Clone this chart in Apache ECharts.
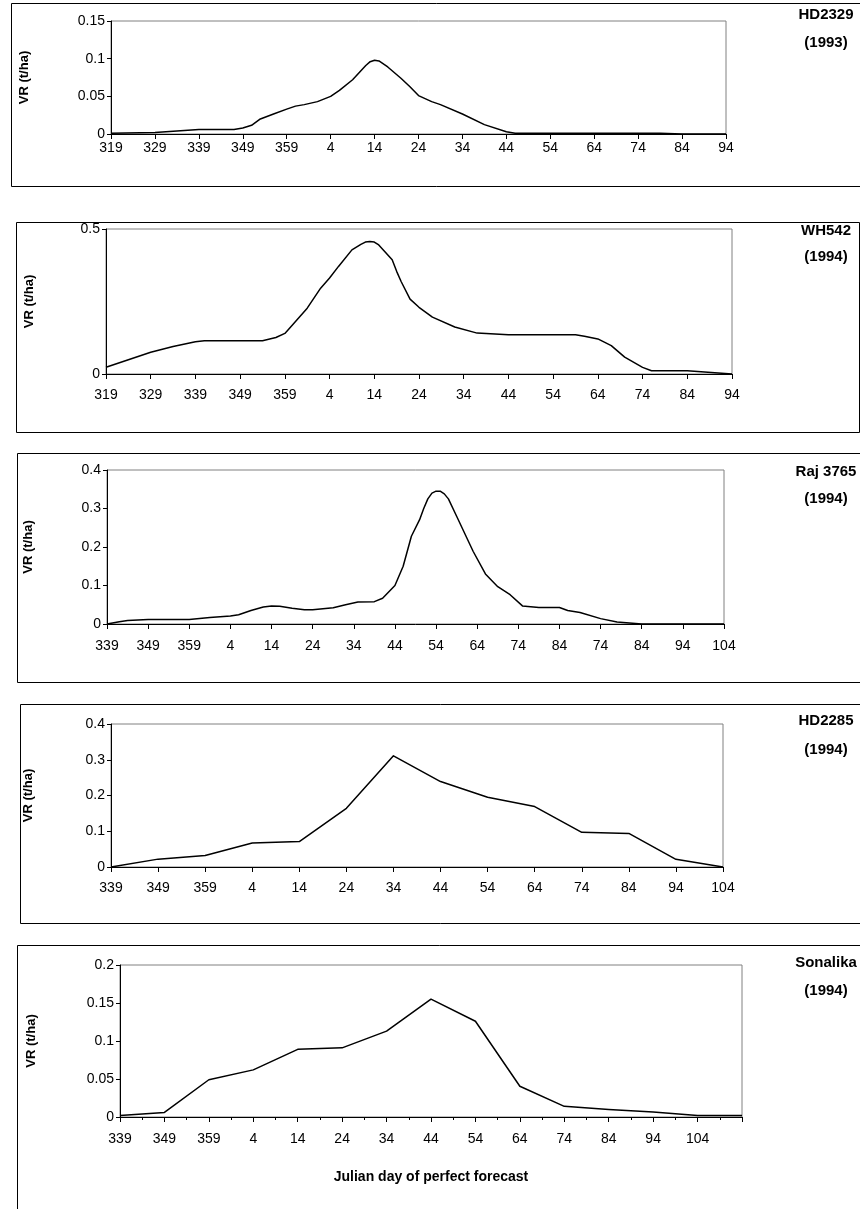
<!DOCTYPE html>
<html>
<head>
<meta charset="utf-8">
<script src="https://cdn.jsdelivr.net/npm/echarts@6/dist/echarts.min.js"></script>
<style>
html,body{margin:0;padding:0;background:#fff;}
#chart{width:860px;height:1209px;}
</style>
</head>
<body>
<div id="chart"></div>
<script>
// ---- Data (x = days after the first tick of each panel; labels are Julian days) ----
const hd2329Labels = ['319','329','339','349','359','4','14','24','34','44','54','64','74','84','94'];
const hd2329Data = [[0,0.001],[10,0.002],[20,0.006],[25,0.006],[28,0.006],[30,0.008],[32,0.0115],[34,0.02],[37,0.0265],[40,0.033],[42,0.037],[44,0.039],[47,0.043],[50,0.05],[52,0.058],[55,0.072],[58,0.091],[59,0.096],[60,0.098],[61,0.097],[63,0.089],[66,0.074],[68,0.063],[70,0.051],[73,0.043],[75,0.039],[80,0.0265],[85,0.0124],[90,0.003],[92,0.001],[100,0.001],[120,0.001],[125,0.001],[130,0],[140,0]];

const wh542Labels = ['319','329','339','349','359','4','14','24','34','44','54','64','74','84','94'];
const wh542Data = [[0,0.023],[5,0.049],[10,0.075],[15,0.095],[20,0.111],[22,0.115],[30,0.115],[35,0.115],[38,0.126],[40,0.14],[41,0.157],[45,0.227],[48,0.296],[50,0.331],[52,0.371],[55,0.428],[57,0.447],[58,0.455],[59,0.457],[60,0.455],[61,0.445],[64,0.394],[65,0.354],[66,0.319],[68,0.258],[70,0.23],[73,0.196],[78,0.162],[83,0.141],[85,0.14],[90,0.135],[100,0.135],[105,0.135],[107,0.13],[110,0.121],[113,0.098],[116,0.058],[120,0.023],[122,0.011],[130,0.011],[140,0]];

const raj3765Labels = ['339','349','359','4','14','24','34','44','54','64','74','84','74','84','94','104'];
const raj3765Data = [[0,0],[3,0.006],[5,0.009],[10,0.012],[20,0.012],[25,0.017],[30,0.021],[32,0.024],[35,0.035],[38,0.044],[40,0.047],[42,0.046],[45,0.041],[48,0.037],[50,0.037],[55,0.042],[58,0.05],[61,0.057],[65,0.058],[67,0.067],[70,0.1],[72,0.15],[74,0.228],[76,0.271],[77,0.3],[78,0.325],[79,0.34],[80,0.345],[81,0.345],[82,0.338],[83,0.325],[85,0.28],[89,0.189],[92,0.13],[95,0.097],[98,0.076],[101,0.047],[105,0.043],[110,0.043],[112,0.035],[115,0.03],[120,0.014],[124,0.005],[130,0],[150,0]];

const hd2285Labels = ['339','349','359','4','14','24','34','44','54','64','74','84','94','104'];
const hd2285Values = [0,0.022,0.032,0.067,0.071,0.164,0.311,0.239,0.195,0.169,0.097,0.094,0.0215,0];

const sonalikaLabels = ['339','349','359','4','14','24','34','44','54','64','74','84','94','104',''];
const sonalikaValues = [0.002,0.006,0.049,0.062,0.089,0.091,0.113,0.155,0.126,0.0405,0.014,0.01,0.0065,0.002,0.002];

const yAxisTitle = 'VR (t/ha)';
const xAxisTitle = 'Julian day of perfect forecast';
const panelNames = [['HD2329','(1993)'],['WH542','(1994)'],['Raj 3765','(1994)'],['HD2285','(1994)'],['Sonalika','(1994)']];

// ---- Layout ----
const FONT = '"Liberation Sans", Arial, sans-serif';
const grids = [
  {left:111, top:21,  width:615, height:113},
  {left:106, top:229, width:626, height:145},
  {left:107, top:470, width:617, height:154},
  {left:111, top:724, width:612, height:143},
  {left:120, top:965, width:622, height:152}
];
const yCfg = [
  {max:0.15, interval:0.05, gap:80},
  {max:0.5, interval:0.5, gap:70},
  {max:0.4, interval:0.1, gap:72},
  {max:0.4, interval:0.1, gap:76},
  {max:0.2, interval:0.05, gap:82}
];
const xCfg = [
  {max:140, labels:hd2329Labels, margin:7},
  {max:140, labels:wh542Labels, margin:14},
  {max:150, labels:raj3765Labels, margin:15},
  {max:130, labels:hd2285Labels, margin:14},
  {max:140, labels:sonalikaLabels, margin:15}
];
const boxes = [
  {x:11, y:3, w:900, h:183},
  {x:16, y:222, w:843, h:210},
  {x:17, y:453, w:843, h:229},
  {x:20, y:704, w:900, h:219},
  {x:17, y:945, w:900, h:400}
];
const nameY = [[15,43],[231,257],[472,499],[721,750],[963,991]];

const series4 = hd2285Values.map((v,i)=>[i*10, v]);
const series5 = sonalikaValues.map((v,i)=>[i*10, v]);
const allData = [hd2329Data, wh542Data, raj3765Data, series4, series5];

const option = {
  animation:false,
  backgroundColor:'#fff',
  grid: grids.map(g=>Object.assign({show:true, borderColor:'#808080', borderWidth:1, backgroundColor:'rgba(0,0,0,0)', containLabel:false}, g)),
  xAxis: xCfg.map((c,i)=>({
    type:'value', gridIndex:i, min:0, max:c.max, interval:10,
    axisLine:{show:true, onZero:false, lineStyle:{color:'#000', width:1}},
    axisTick:{show:true, length:5, lineStyle:{color:'#000'}},
    minorTick: i===4 ? {show:true, splitNumber:2, length:3, lineStyle:{color:'#000'}} : {show:false},
    splitLine:{show:false},
    axisLabel:{color:'#000', fontSize:14, fontFamily:FONT, margin:c.margin, showMinLabel:true, showMaxLabel:true,
      formatter:(v)=>{const k=Math.round(v/10); return c.labels[k]!==undefined ? c.labels[k] : '';}},
    name: i===4 ? xAxisTitle : '',
    nameLocation:'middle', nameGap:53,
    nameTextStyle:{color:'#000', fontSize:14, fontWeight:'bold', fontFamily:FONT}
  })),
  yAxis: yCfg.map((c,i)=>({
    type:'value', gridIndex:i, min:0, max:c.max, interval:c.interval,
    axisLine:{show:true, lineStyle:{color:'#000', width:1}},
    axisTick:{show:true, length:4, lineStyle:{color:'#000'}},
    splitLine:{show:false},
    axisLabel:{color:'#000', fontSize:14, fontFamily:FONT, margin:6},
    name:yAxisTitle, nameLocation:'middle', nameGap:c.gap, nameRotate:90,
    nameTextStyle:{color:'#000', fontSize:13, fontWeight:'bold', fontFamily:FONT}
  })),
  series: allData.map((d,i)=>({
    type:'line', xAxisIndex:i, yAxisIndex:i, data:d, showSymbol:false, smooth:false,
    lineStyle:{color:'#000', width:1.5, join:'round'}, z:5
  })),
  graphic: [].concat(
    boxes.map(b=>({type:'rect', silent:true, z:-1, shape:{x:b.x+0.5, y:b.y+0.5, width:b.w, height:b.h}, style:{fill:'none', stroke:'#000', lineWidth:1}})),
    panelNames.map((n,i)=>({type:'text', silent:true, style:{x:826, y:nameY[i][0], text:n[0], fill:'#000', font:'bold 15px '+FONT, textAlign:'center', textVerticalAlign:'middle'}})),
    panelNames.map((n,i)=>({type:'text', silent:true, style:{x:826, y:nameY[i][1], text:n[1], fill:'#000', font:'bold 15px '+FONT, textAlign:'center', textVerticalAlign:'middle'}}))
  )
};
const chart = echarts.init(document.getElementById('chart'), null, {renderer:'canvas'});
chart.setOption(option);
</script>
</body>
</html>
